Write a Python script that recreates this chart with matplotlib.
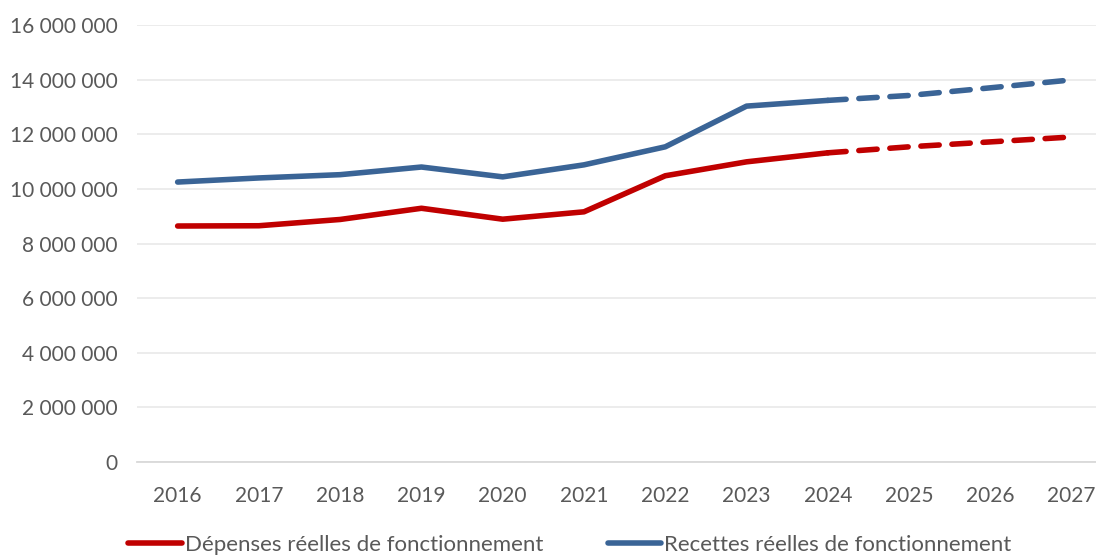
import matplotlib
matplotlib.use("Agg")
from matplotlib import pyplot as plt
from matplotlib.ticker import FuncFormatter
from matplotlib.lines import Line2D

years = ["2016", "2017", "2018", "2019", "2020", "2021", "2022", "2023", "2024", "2025", "2026", "2027"]
depenses = [8640000, 8650000, 8880000, 9290000, 8890000, 9160000, 10480000, 10990000, 11320000, 11540000, 11720000, 11900000]
recettes = [10250000, 10400000, 10520000, 10800000, 10440000, 10880000, 11540000, 13030000, 13240000, 13420000, 13700000, 13990000]
n_real = 9  # 2016-2024 real, then forecast

plt.rcParams['font.family'] = ['Lato', 'DejaVu Sans']

red = "#C00000"
blue = "#3A6496"
grey_txt = "#595959"

fig = plt.figure(figsize=(10.96, 5.57), dpi=100)
ax = fig.add_axes([137 / 1096, 1 - 462 / 557, 1 - 137 / 1096, (462 - 25) / 557])

x = list(range(len(years)))
for vals, col in [(depenses, red), (recettes, blue)]:
    ax.plot(x[:n_real], vals[:n_real], color=col, lw=4, solid_capstyle="round",
            solid_joinstyle="round", zorder=3)
    ax.plot(x[n_real - 1:], vals[n_real - 1:], color=col, lw=4, dashes=(3.3, 2.3),
            dash_capstyle="round", zorder=3)

ax.set_ylim(0, 16000000)
ax.set_xlim(-0.5, 11.3)
ax.set_yticks(range(0, 16000001, 2000000))
ax.yaxis.set_major_formatter(FuncFormatter(lambda v, p: f"{int(v):,}".replace(",", " ")))
ax.set_xticks(x)
ax.set_xticklabels(years)

ax.grid(axis="y", color="#EBEBEB", lw=1.3)
ax.set_axisbelow(True)
for s in ["top", "right", "left"]:
    ax.spines[s].set_visible(False)
ax.spines["bottom"].set_color("#D9D9D9")
ax.spines["bottom"].set_linewidth(1.3)
ax.tick_params(axis="both", length=0, labelsize=15, colors=grey_txt)
ax.tick_params(axis="y", pad=14)
ax.tick_params(axis="x", pad=17)

handles = [Line2D([], [], color=red, lw=4, solid_capstyle="round"),
           Line2D([], [], color=blue, lw=4, solid_capstyle="round")]
fig.legend(handles, ["Dépenses réelles de fonctionnement", "Recettes réelles de fonctionnement"],
           loc="center", bbox_to_anchor=(570 / 1096, 1 - 545 / 557), ncol=2, frameon=False,
           fontsize=16, labelcolor=grey_txt, handlelength=2.4, handletextpad=0.15,
           columnspacing=2.9)

fig.savefig("out.png", dpi=100)
